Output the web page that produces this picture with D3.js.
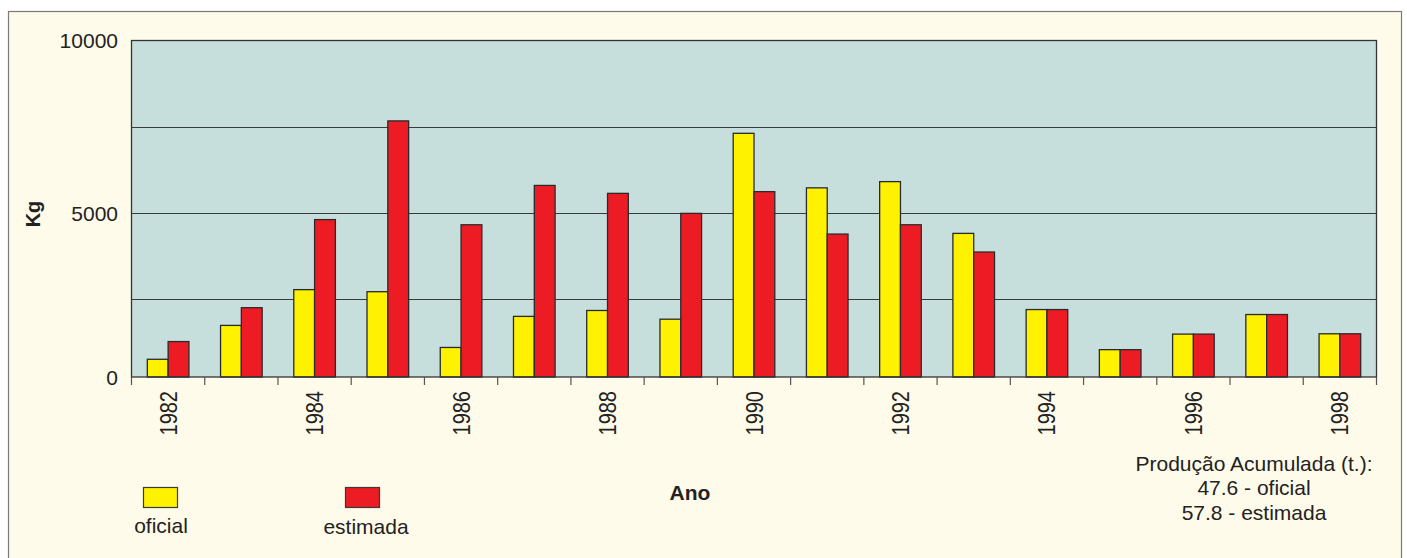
<!DOCTYPE html>
<html>
<head>
<meta charset="utf-8">
<script src="https://cdn.jsdelivr.net/npm/d3@7"></script>
<style>
  html, body { margin: 0; padding: 0; background: #ffffff; }
  svg { display: block; font-family: "Liberation Sans", Arial, sans-serif; }
</style>
</head>
<body>
<svg id="chart" width="1407" height="558"></svg>
<script>
// Annual production (kg), 1982–1998
const years = ["1982","1983","1984","1985","1986","1987","1988","1989","1990",
               "1991","1992","1993","1994","1995","1996","1997","1998"];
const oficial  = [570, 1660, 2780, 2720, 950, 1950, 2140, 1860, 7310,
                  5730, 5910, 4410, 2170, 880, 1380, 2010, 1390];
const estimada = [1140, 2230, 4810, 7670, 4660, 5800, 5570, 4990, 5620,
                  4390, 4660, 3870, 2170, 880, 1380, 2010, 1390];
const seriesNames = ["oficial", "estimada"];
const seriesColors = ["#fff200", "#ed1c24"];
const yTickLabels = [0, 5000, 10000];
const gridValues = [2500, 5000, 7500];
const yearLabels = years.filter((d, i) => i % 2 === 0);
const summaryLines = ["Produção Acumulada (t.):", "47.6 - oficial", "57.8 - estimada"];

const svg = d3.select("#chart");
const textColor = "#222";

// outer panel
svg.append("rect")
  .attr("x", 8.5).attr("y", 11.5)
  .attr("width", 1393).attr("height", 560)
  .attr("fill", "#fffbea").attr("stroke", "#7a7a7a").attr("stroke-width", 1.2);

const plot = { left: 131.5, right: 1376.5, top: 40.5, bottom: 377 };

const x0 = d3.scaleBand().domain(years).range([plot.left, plot.right]).paddingInner(0).paddingOuter(0);
const x1 = d3.scaleBand().domain(seriesNames).range([0, x0.bandwidth()]).paddingInner(0).paddingOuter(0.76);
const y = d3.scaleLinear().domain([0, 2500, 10000]).range([plot.bottom, 299.3, plot.top]);

// plot background
svg.append("rect")
  .attr("x", plot.left).attr("y", plot.top)
  .attr("width", plot.right - plot.left).attr("height", plot.bottom - plot.top)
  .attr("fill", "#c6dfdc");

// gridlines
svg.append("g").selectAll("line").data(gridValues).join("line")
  .attr("x1", plot.left).attr("x2", plot.right)
  .attr("y1", d => Math.round(y(d)) + 0.5).attr("y2", d => Math.round(y(d)) + 0.5)
  .attr("stroke", "#3a3a3a").attr("stroke-width", 1.1);

// bars
const rows = years.map((yr, i) => ({ year: yr, values: [oficial[i], estimada[i]] }));
const groups = svg.append("g").selectAll("g").data(rows).join("g")
  .attr("transform", d => `translate(${x0(d.year)},0)`);
groups.selectAll("rect")
  .data(d => d.values.map((v, k) => ({ key: seriesNames[k], value: v, color: seriesColors[k] })))
  .join("rect")
  .attr("x", d => x1(d.key))
  .attr("y", d => y(d.value))
  .attr("width", x1.bandwidth())
  .attr("height", d => y(0) - y(d.value))
  .attr("fill", d => d.color)
  .attr("stroke", "#2a2a2a").attr("stroke-width", 1.3);

// plot frame
svg.append("rect")
  .attr("x", plot.left).attr("y", plot.top)
  .attr("width", plot.right - plot.left).attr("height", plot.bottom - plot.top)
  .attr("fill", "none").attr("stroke", "#333").attr("stroke-width", 1.3);

// x ticks at category boundaries
const boundaries = years.map(d => x0(d)).concat([plot.right]);
svg.append("g").selectAll("line").data(boundaries).join("line")
  .attr("x1", d => d).attr("x2", d => d)
  .attr("y1", plot.bottom).attr("y2", plot.bottom + 8)
  .attr("stroke", "#555").attr("stroke-width", 1.2);

// x labels (every other year, rotated)
svg.append("g").selectAll("text").data(yearLabels).join("text")
  .attr("transform", d => `translate(${x0(d) + x0.bandwidth() / 2 + 8.5},391) rotate(-90) scale(1,1.2)`)
  .attr("text-anchor", "end")
  .attr("font-size", 20)
  .attr("fill", textColor)
  .text(d => d);

// y labels
svg.append("g").selectAll("text").data(yTickLabels).join("text")
  .attr("x", 118).attr("y", d => y(d) + 7.5)
  .attr("text-anchor", "end")
  .attr("font-size", 21)
  .attr("fill", textColor)
  .text(d => d);

// axis titles
svg.append("text")
  .attr("transform", "translate(40,214) rotate(-90)")
  .attr("text-anchor", "middle")
  .attr("font-size", 20).attr("font-weight", "bold")
  .attr("fill", textColor)
  .text("Kg");

svg.append("text")
  .attr("x", 690).attr("y", 500)
  .attr("text-anchor", "middle")
  .attr("font-size", 21).attr("font-weight", "bold")
  .attr("fill", textColor)
  .text("Ano");

// legend
const legendPos = [{ x: 143, cx: 161, ty: 533 }, { x: 345, cx: 366, ty: 534 }];
const legend = svg.append("g").selectAll("g").data(seriesNames).join("g");
legend.append("rect")
  .attr("x", (d, i) => legendPos[i].x + 0.5).attr("y", 487.5)
  .attr("width", 34).attr("height", 20)
  .attr("fill", (d, i) => seriesColors[i])
  .attr("stroke", "#3a3a3a").attr("stroke-width", 1.2);
legend.append("text")
  .attr("x", (d, i) => legendPos[i].cx).attr("y", (d, i) => legendPos[i].ty)
  .attr("text-anchor", "middle")
  .attr("font-size", 21)
  .attr("fill", textColor)
  .text(d => d);

// cumulative production note
svg.append("g").selectAll("text").data(summaryLines).join("text")
  .attr("x", 1254).attr("y", (d, i) => 470.5 + i * 24.5)
  .attr("text-anchor", "middle")
  .attr("font-size", 21)
  .attr("fill", textColor)
  .text(d => d);
</script>
</body>
</html>
